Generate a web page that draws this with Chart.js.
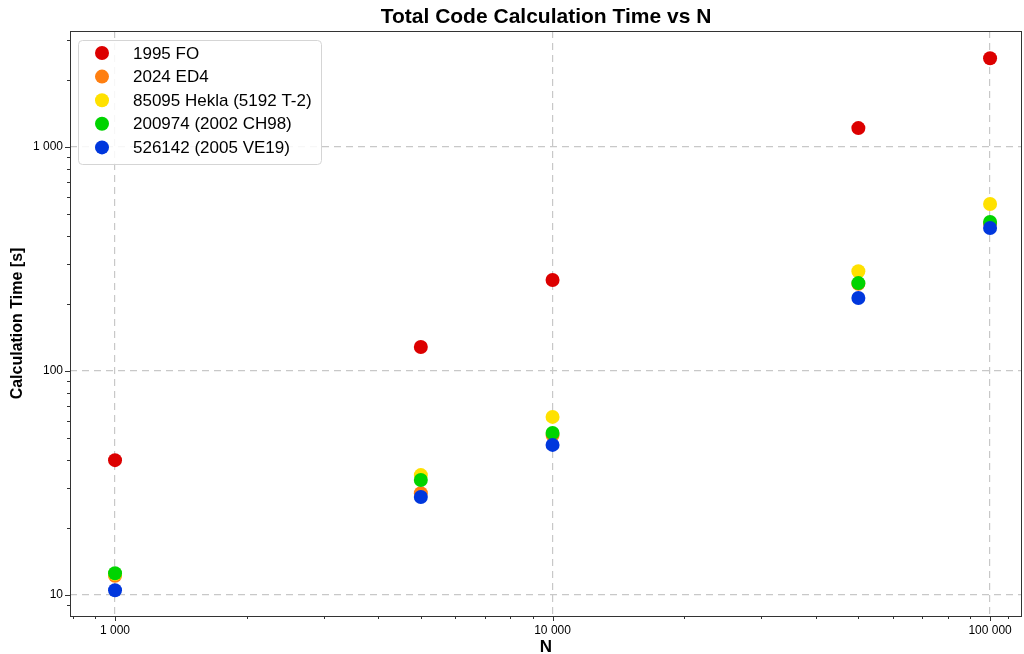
<!DOCTYPE html>
<html>
<head>
<meta charset="utf-8">
<script src="https://cdn.jsdelivr.net/npm/chart.js@4.4.1/dist/chart.umd.min.js"></script>
<style>
  html, body { margin: 0; padding: 0; background: #fff; }
  #wrap { width: 1024px; height: 654px; }
</style>
</head>
<body>
<div id="wrap"><canvas id="timeChart"></canvas></div>
<script>
const nValues = [1000, 5000, 10000, 50000, 100000];

const seriesNames = ['1995 FO', '2024 ED4', '85095 Hekla (5192 T-2)', '200974 (2002 CH98)', '526142 (2005 VE19)'];
const seriesColors = ['#dc0000', '#ff7f10', '#ffe100', '#00d400', '#0037dd'];

const fo1995 = [40, 128, 255, 1215, 2490];
const ed2024 = [12.2, 28.5, 51.8, 245, 455];
const hekla = [12.4, 34.3, 62.4, 279, 557];
const ch2002 = [12.5, 32.6, 52.9, 247, 463];
const ve2005 = [10.5, 27.4, 46.8, 212, 435];
const allSeries = [fo1995, ed2024, hekla, ch2002, ve2005];

const xMajor = [1000, 10000, 100000];
const xMinor = [800, 900, 2000, 3000, 4000, 5000, 6000, 7000, 8000, 9000,
  20000, 30000, 40000, 50000, 60000, 70000, 80000, 90000, 110000];
const yMajor = [10, 100, 1000];
const yMinor = [9, 20, 30, 40, 50, 60, 70, 80, 90, 200, 300, 400, 500, 600, 700, 800, 900, 2000, 3000];

function spaced(v) {
  return String(v).replace(/\B(?=(\d{3})+(?!\d))/g, ' ');
}

const datasets = allSeries.map((vals, i) => ({
  label: seriesNames[i],
  data: vals.map((y, j) => ({ x: nValues[j], y: y })),
  backgroundColor: seriesColors[i],
  borderColor: seriesColors[i],
  pointRadius: 7,
  pointHoverRadius: 7,
  borderWidth: 0,
  order: 5 - i
}));

// frame, minor/major tick marks, title and legend
const decorations = {
  id: 'decorations',
  afterDraw(chart) {
    const ctx = chart.ctx;
    const a = chart.chartArea;
    const xs = chart.scales.x, ys = chart.scales.y;
    ctx.save();
    ctx.strokeStyle = '#333';
    ctx.lineWidth = 1;
    ctx.strokeRect(a.left + 0.5, a.top + 0.5, a.right - a.left - 1, a.bottom - a.top);

    ctx.beginPath();
    xMajor.forEach(v => { const p = Math.round(xs.getPixelForValue(v)) + 0.5; ctx.moveTo(p, a.bottom); ctx.lineTo(p, a.bottom + 5); });
    xMinor.forEach(v => { const p = Math.round(xs.getPixelForValue(v)) + 0.5; ctx.moveTo(p, a.bottom); ctx.lineTo(p, a.bottom + 3); });
    yMajor.forEach(v => { const p = Math.round(ys.getPixelForValue(v)) + 0.5; ctx.moveTo(a.left, p); ctx.lineTo(a.left - 5, p); });
    yMinor.forEach(v => { const p = Math.round(ys.getPixelForValue(v)) + 0.5; ctx.moveTo(a.left, p); ctx.lineTo(a.left - 3, p); });
    ctx.stroke();

    ctx.fillStyle = '#000';
    ctx.font = 'bold 21px "Liberation Sans", Arial, sans-serif';
    ctx.textAlign = 'center';
    ctx.textBaseline = 'middle';
    ctx.fillText('Total Code Calculation Time vs N', (a.left + a.right) / 2, 17);

    // legend box
    const bx = 78, by = 40, bw = 243, bh = 124;
    ctx.fillStyle = 'rgba(255,255,255,0.85)';
    ctx.strokeStyle = '#d5d5d5';
    ctx.lineWidth = 1;
    ctx.beginPath();
    ctx.roundRect(bx + 0.5, by + 0.5, bw, bh, 4);
    ctx.fill();
    ctx.stroke();
    ctx.font = '17px "Liberation Sans", Arial, sans-serif';
    ctx.textAlign = 'left';
    seriesNames.forEach((name, i) => {
      const cy = 53 + i * 23.6;
      ctx.fillStyle = seriesColors[i];
      ctx.beginPath();
      ctx.arc(102, cy, 7, 0, Math.PI * 2);
      ctx.fill();
      ctx.fillStyle = '#000';
      ctx.fillText(name, 133, cy + 1);
    });
    ctx.restore();
  }
};

new Chart(document.getElementById('timeChart'), {
  type: 'scatter',
  data: { datasets: datasets },
  options: {
    responsive: true,
    maintainAspectRatio: false,
    animation: false,
    layout: { autoPadding: false, padding: { top: 31, right: 2, left: 0, bottom: 0 } },
    plugins: {
      legend: { display: false },
      title: { display: false },
      tooltip: { enabled: false }
    },
    scales: {
      x: {
        type: 'logarithmic',
        min: 789,
        max: 118300,
        afterBuildTicks: s => { s.ticks = xMajor.map(v => ({ value: v })); },
        afterFit: s => { s.height = 38; s.paddingLeft = 0; s.paddingRight = 0; },
        ticks: {
          callback: v => spaced(v),
          color: '#000',
          font: { size: 12, family: '"Liberation Sans", Arial, sans-serif' },
          padding: 7,
          maxRotation: 0,
          autoSkip: false
        },
        grid: { color: '#c8c8c8', lineWidth: 1.2, drawTicks: false },
        border: { display: false, dash: [7, 5] },
        title: {
          display: true,
          text: 'N',
          color: '#000',
          font: { size: 17, weight: 'bold', lineHeight: 1, family: '"Liberation Sans", Arial, sans-serif' },
          padding: { top: 0, bottom: -2 }
        }
      },
      y: {
        type: 'logarithmic',
        min: 8.06,
        max: 3297,
        afterBuildTicks: s => { s.ticks = yMajor.map(v => ({ value: v })); },
        afterFit: s => { s.width = 70; s.paddingTop = 0; s.paddingBottom = 0; },
        ticks: {
          callback: v => spaced(v),
          color: '#000',
          font: { size: 12, family: '"Liberation Sans", Arial, sans-serif' },
          padding: 7,
          autoSkip: false
        },
        grid: { color: '#c8c8c8', lineWidth: 1.2, drawTicks: false },
        border: { display: false, dash: [7, 5] },
        title: {
          display: true,
          text: 'Calculation Time [s]',
          color: '#000',
          font: { size: 16, weight: 'bold', family: '"Liberation Sans", Arial, sans-serif' },
          padding: { top: 8, bottom: 0 }
        }
      }
    }
  },
  plugins: [decorations]
});
</script>
</body>
</html>
